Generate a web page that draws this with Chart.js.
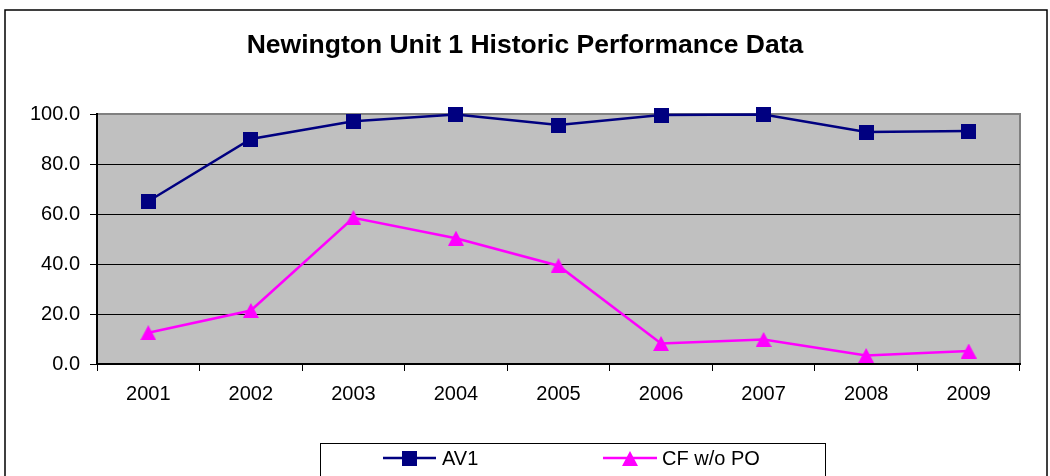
<!DOCTYPE html>
<html>
<head>
<meta charset="utf-8">
<title>Newington Unit 1 Historic Performance Data</title>
<script src="https://cdn.jsdelivr.net/npm/chart.js@4"></script>
<style>
  html, body { margin: 0; padding: 0; background: #fff; }
  canvas { display: block; }
</style>
</head>
<body>
<canvas id="chart" width="1050" height="476"></canvas>
<script>
// data
const years = ['2001', '2002', '2003', '2004', '2005', '2006', '2007', '2008', '2009'];
const av1 = [65.1, 90.0, 97.1, 99.8, 95.6, 99.6, 99.8, 92.8, 93.2];
const cfWoPo = [12.5, 21.4, 58.5, 50.3, 39.3, 8.2, 9.8, 3.4, 5.2];
const seriesNames = ['AV1', 'CF w/o PO'];
const yMin = 0, yMax = 100, yStep = 20;

const FONT = "'Liberation Sans', Arial, sans-serif";
const NAVY = '#000080';
const PINK = '#FF00FF';

// excel style markers, centred on their box
function squareMarker(color) {
  const c = document.createElement('canvas');
  c.width = 15; c.height = 15;
  const g = c.getContext('2d');
  g.fillStyle = color;
  g.fillRect(0, 0, 15, 15);
  return c;
}
function triangleMarker(color) {
  const c = document.createElement('canvas');
  c.width = 16; c.height = 15;
  const g = c.getContext('2d');
  g.fillStyle = color;
  g.beginPath();
  g.moveTo(8, 0); g.lineTo(16, 15); g.lineTo(0, 15);
  g.closePath();
  g.fill();
  return c;
}
const sq = squareMarker(NAVY);
const tri = triangleMarker(PINK);

const frame = {
  id: 'frame',
  beforeDraw(chart) {
    const { ctx, chartArea: a } = chart;
    ctx.save();
    ctx.fillStyle = '#fff';
    ctx.fillRect(0, 0, chart.width, chart.height);
    // outer chart border
    ctx.strokeStyle = '#000';
    ctx.lineWidth = 1.5;
    ctx.strokeRect(5, 10, 1042, 480);
    // plot area
    ctx.fillStyle = '#C0C0C0';
    ctx.fillRect(a.left, a.top, a.right - a.left, a.bottom - a.top);
    ctx.strokeStyle = '#808080';
    ctx.lineWidth = 2;
    ctx.strokeRect(a.left, a.top, a.right - a.left, a.bottom - a.top);
    ctx.restore();
  },
  afterDraw(chart) {
    // legend box at the bottom
    const ctx = chart.ctx;
    const ds = chart.data.datasets;
    const y = 458;
    const items = [{ x0: 383, x1: 436, tx: 442 }, { x0: 603, x1: 657, tx: 662 }];
    ctx.save();
    ctx.strokeStyle = '#000';
    ctx.lineWidth = 1;
    ctx.strokeRect(320.5, 443.5, 505, 40);
    ds.forEach((d, i) => {
      const it = items[i];
      ctx.strokeStyle = d.borderColor;
      ctx.lineWidth = d.borderWidth;
      ctx.beginPath();
      ctx.moveTo(it.x0, y); ctx.lineTo(it.x1, y);
      ctx.stroke();
      const img = d.pointStyle;
      ctx.drawImage(img, Math.round((it.x0 + it.x1) / 2 - img.width / 2), Math.round(y - img.height / 2));
      ctx.fillStyle = '#000';
      ctx.font = '20px ' + FONT;
      ctx.textBaseline = 'middle';
      ctx.textAlign = 'left';
      ctx.fillText(d.label, it.tx, y + 1);
    });
    ctx.restore();
  }
};

new Chart(document.getElementById('chart'), {
  type: 'line',
  data: {
    labels: years,
    datasets: [
      {
        label: seriesNames[0],
        data: av1,
        borderColor: NAVY,
        backgroundColor: NAVY,
        borderWidth: 2.5,
        pointStyle: sq,
        tension: 0,
        clip: false
      },
      {
        label: seriesNames[1],
        data: cfWoPo,
        borderColor: PINK,
        backgroundColor: PINK,
        borderWidth: 2.5,
        pointStyle: tri,
        tension: 0,
        clip: false
      }
    ]
  },
  options: {
    responsive: false,
    animation: false,
    layout: { padding: { left: 30, right: 30, top: 0, bottom: 0 } },
    plugins: {
      legend: { display: false },
      tooltip: { enabled: false },
      title: {
        display: true,
        text: 'Newington Unit 1 Historic Performance Data',
        color: '#000',
        font: { family: FONT, size: 26.5, weight: 'bold' },
        padding: { top: 29.5, bottom: 52.7 }
      }
    },
    scales: {
      x: {
        offset: true,
        afterFit(s) { s.height = 112; },
        grid: {
          offset: true,
          drawOnChartArea: false,
          tickLength: 7,
          color: '#000',
          tickColor: '#000'
        },
        border: { display: true, color: '#000', width: 2 },
        ticks: {
          color: '#000',
          padding: 11,
          maxRotation: 0,
          font: { family: FONT, size: 20 }
        }
      },
      y: {
        min: yMin,
        max: yMax,
        afterFit(s) { s.width = 67; },
        grid: {
          tickLength: 7,
          color: (c) => (c.tick && c.tick.value === yMax ? '#808080' : '#000'),
          tickColor: '#000',
          lineWidth: 1
        },
        border: { display: true, color: '#000', width: 2 },
        ticks: {
          stepSize: yStep,
          color: '#000',
          padding: 10,
          font: { family: FONT, size: 20 },
          callback: (v) => Number(v).toFixed(1)
        }
      }
    }
  },
  plugins: [frame]
});
</script>
</body>
</html>
